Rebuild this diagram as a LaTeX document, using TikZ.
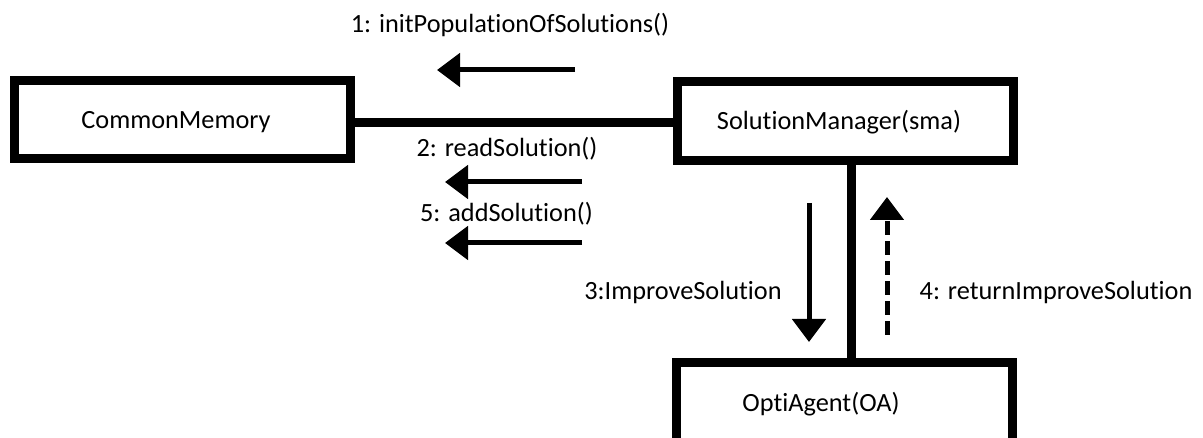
\documentclass[tikz,border=0pt]{standalone}
\usepackage{fontspec}
\setmainfont{Carlito}[Ligatures=NoCommon]
\usetikzlibrary{arrows.meta}

\tikzset{
  objbox/.style={draw, line width=9pt, minimum width=336pt, inner sep=0pt},
  link/.style={line width=9pt},
  msg/.style={line width=5pt, -{Triangle[length=23pt,width=33pt]}},
  retmsg/.style={msg, dash pattern=on 14pt off 6pt},
  lbl/.style={anchor=base, inner sep=0pt, font=\fontsize{26.3}{30}\selectfont}
}

\begin{document}
\begin{tikzpicture}[x=1pt, y=-1pt]
  \useasboundingbox (0,0) rectangle (1203,438);
  \clip (0,0) rectangle (1203,438);

  % objects of the collaboration
  \node[objbox, minimum height=78pt] (cm) at (182.5,119.5) {};
  \node[objbox, minimum height=79pt] (sm) at (845.5,121) {};
  \node[objbox, minimum height=85pt] (oa) at (844.5,405) {};

  \node[lbl] (cmText) at (176,129) {CommonMemory};
  \node[lbl] (smText) at (839,130) {SolutionManager(sma)};
  \node[lbl] (oaText) at (821,412) {OptiAgent(OA)};

  % links between objects
  \coordinate (linkY) at (0,123);
  \coordinate (spineX) at (851,0);
  \draw[link] (cm.east |- linkY) -- (sm.west |- linkY);
  \draw[link] (sm.south -| spineX) -- (oa.north -| spineX);

  % messages along the horizontal link
  \coordinate (m1from) at (575,70);
  \coordinate (m1to)   at (437,70);
  \coordinate (m2from) at (582,182);
  \coordinate (m2to)   at (445,182);
  \coordinate (m5from) at (582,243);
  \coordinate (m5to)   at (445,243);
  \draw[msg] (m1from) -- (m1to);
  \draw[msg] (m2from) -- (m2to);
  \draw[msg] (m5from) -- (m5to);

  \node[lbl] (m1) at (510,33) {1: initPopulationOfSolutions()};
  \node[lbl] (m2) at (507,157) {2: readSolution()};
  \node[lbl] (m5) at (506.5,222) {5: addSolution()};

  % messages along the vertical link
  \coordinate (m3from) at (809,203);
  \coordinate (m3to)   at (809,342);
  \coordinate (m4from) at (887,335);
  \coordinate (m4to)   at (887,197);
  \draw[msg] (m3from) -- (m3to);
  \draw[retmsg] (m4from) -- (m4to);

  \node[lbl] (m3) at (683,300) {3:ImproveSolution};
  \node[lbl] (m4) at (1056,300) {4: returnImproveSolution};
\end{tikzpicture}
\end{document}
